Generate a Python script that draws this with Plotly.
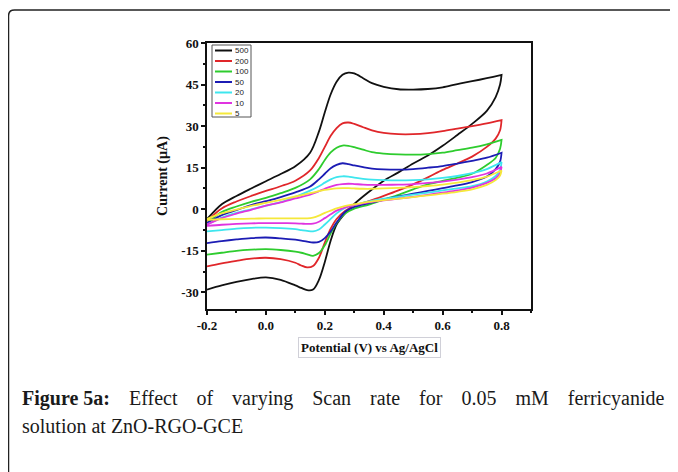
import plotly.graph_objects as go


# ==========================================================
# Data
# ==========================================================

scan_rates = ["500", "200", "100", "50", "20", "10", "5"]

line_colors = ["#111111", "#e0262a", "#2ecc2e", "#1c1cb4",
               "#3ee6ee", "#e034e0", "#f5e83a"]

# forward (anodic) sweep, -0.2 V -> 0.8 V
potential_fwd = [-0.2, -0.15, -0.1, -0.05, 0.0, 0.05, 0.1, 0.15, 0.18, 0.2,
                 0.22, 0.24, 0.26, 0.28, 0.3, 0.33, 0.36, 0.4, 0.45, 0.5,
                 0.55, 0.6, 0.65, 0.7, 0.75, 0.8]

# reverse (cathodic) sweep, 0.8 V -> -0.2 V
potential_rev = [0.8, 0.795, 0.78, 0.75, 0.7, 0.65, 0.6, 0.55, 0.5, 0.45, 0.4,
                 0.35, 0.3, 0.27, 0.24, 0.22, 0.2, 0.18, 0.16, 0.14, 0.12,
                 0.1, 0.05, 0.0, -0.05, -0.1, -0.15, -0.2]

current_500_fwd = [-3.6, 1.8, 4.8, 7.5, 10.1, 12.7, 15.5, 20.4, 28.0, 35.0,
                   41.5, 46.0, 48.5, 49.3, 49.0, 47.3, 45.5, 44.2, 43.3, 43.2,
                   43.4, 44.0, 45.2, 46.2, 47.3, 48.5]
current_500_rev = [48.5, 45.0, 40.5, 35.5, 30.8, 26.8, 22.9, 19.4, 16.5, 13.3, 10.3,
                   6.3, 1.9, -1.3, -5.5, -11.3, -19.0, -25.5, -29.0, -29.2, -28.4,
                   -27.5, -25.5, -24.6, -25.2, -26.2, -27.5, -29.0]

current_200_fwd = [-4.2, 0.3, 2.8, 4.8, 6.6, 8.3, 10.3, 14.0, 18.5, 22.5,
                   26.5, 29.3, 31.0, 31.3, 30.8, 29.6, 28.5, 27.6, 27.1, 27.1,
                   27.5, 28.2, 29.1, 30.0, 31.0, 32.2]
current_200_rev = [32.2, 28.5, 25.5, 22.5, 19.0, 16.5, 14.2, 11.5, 9.0, 6.8, 4.8,
                   2.9, 1.2, -0.5, -3.5, -7.0, -12.0, -17.5, -20.5, -21.0, -20.3,
                   -19.3, -18.0, -17.5, -17.8, -18.6, -19.5, -20.6]

current_100_fwd = [-5.0, -1.0, 1.0, 2.7, 4.1, 5.8, 7.7, 10.8, 14.5, 17.8,
                   20.5, 22.2, 23.0, 22.9, 22.4, 21.5, 20.6, 20.1, 19.8, 19.7,
                   19.9, 20.4, 21.3, 22.2, 23.4, 25.0]
current_100_rev = [25.0, 21.8, 18.5, 16.0, 12.8, 11.4, 10.2, 9.0, 7.2, 5.2, 3.5,
                   1.7, 0.2, -1.5, -5.0, -8.7, -13.0, -15.8, -16.8, -16.3, -15.7,
                   -15.3, -14.7, -14.4, -14.6, -15.0, -15.7, -16.4]

current_50_fwd = [-5.0, -2.1, -0.3, 1.5, 2.9, 4.4, 6.1, 8.2, 10.8, 12.8,
                  14.8, 16.0, 16.6, 16.3, 15.8, 15.2, 14.7, 14.4, 14.3, 14.5,
                  15.0, 15.6, 16.5, 17.5, 18.6, 20.4]
current_50_rev = [20.4, 17.2, 14.5, 11.8, 9.8, 8.6, 7.6, 6.6, 5.6, 4.6, 3.5,
                  2.2, 0.8, -0.8, -4.8, -8.0, -10.4, -11.8, -12.0, -11.7, -11.3,
                  -11.0, -10.5, -10.2, -10.4, -10.9, -11.5, -12.2]

current_20_fwd = [-5.5, -3.0, -1.3, 0.0, 1.3, 2.6, 4.5, 6.7, 8.3, 9.6,
                  10.8, 11.6, 11.9, 11.8, 11.4, 11.0, 10.7, 10.5, 10.4, 10.5,
                  10.8, 11.3, 12.0, 13.0, 14.5, 17.0]
current_20_rev = [17.0, 14.2, 12.0, 10.0, 8.3, 7.5, 6.8, 6.0, 5.3, 4.5, 3.8,
                  2.8, 1.5, 0.6, -1.5, -3.5, -5.5, -7.3, -8.0, -7.8, -7.5,
                  -7.2, -6.8, -6.6, -6.7, -7.0, -7.5, -8.0]

current_10_fwd = [-5.5, -3.2, -1.6, -0.2, 1.3, 2.5, 3.9, 5.3, 6.5, 7.4,
                  8.2, 8.8, 9.1, 9.2, 9.1, 8.9, 8.8, 8.8, 8.9, 9.1,
                  9.5, 10.0, 10.7, 11.6, 12.9, 15.3]
current_10_rev = [15.3, 13.0, 11.2, 9.5, 7.8, 6.8, 6.0, 5.2, 4.5, 3.8, 3.2,
                  2.5, 1.5, 0.7, -0.5, -1.8, -3.2, -4.5, -5.2, -5.3, -5.2,
                  -5.1, -5.0, -5.0, -5.1, -5.3, -5.6, -6.0]

current_5_fwd = [-3.5, -1.5, -0.1, 1.2, 2.3, 3.4, 4.6, 5.8, 6.5, 7.0,
                 7.3, 7.5, 7.6, 7.6, 7.5, 7.4, 7.4, 7.5, 7.7, 8.0,
                 8.4, 8.9, 9.6, 10.5, 11.8, 14.0]
current_5_rev = [14.0, 12.2, 10.5, 8.8, 7.2, 6.3, 5.6, 5.0, 4.4, 3.8, 3.3,
                 2.7, 1.8, 1.2, 0.3, -0.5, -1.3, -2.3, -3.0, -3.3, -3.3,
                 -3.3, -3.3, -3.3, -3.4, -3.5, -3.6, -3.8]

currents_fwd = [current_500_fwd, current_200_fwd, current_100_fwd, current_50_fwd,
                current_20_fwd, current_10_fwd, current_5_fwd]
currents_rev = [current_500_rev, current_200_rev, current_100_rev, current_50_rev,
                current_20_rev, current_10_rev, current_5_rev]

x_ticks = [-0.2, 0.0, 0.2, 0.4, 0.6, 0.8]
x_ticklabels = ["-0.2", "0.0", "0.2", "0.4", "0.6", "0.8"]
y_ticks = [-30, -15, 0, 15, 30, 45, 60]
y_ticklabels = ["-30", "-15", "0", "15", "30", "45", "60"]


# ==========================================================
# Layout helpers (screen pixel -> paper)
# the page body has an 8px margin, so the figure is drawn 8px smaller
# ==========================================================

OFF = 8
W, H = 678 - OFF, 472 - OFF
PL, PR, PT, PB = 207 - OFF, 531 - OFF, 43 - OFF, 309 - OFF


def px_x(px):
    return (px - OFF - PL) / (PR - PL)


def px_y(py):
    return (PB - (py - OFF)) / (PB - PT)


# ==========================================================
# Figure
# ==========================================================

fig = go.Figure()

for rate, color, fwd, rev in zip(scan_rates, line_colors, currents_fwd, currents_rev):
    fig.add_trace(
        go.Scatter(
            x=potential_fwd + potential_rev,
            y=fwd + rev,
            mode="lines",
            name=rate,
            line=dict(color=color, width=1.8, shape="spline", smoothing=0.9),
            showlegend=False
        )
    )

tick_font = dict(family="Liberation Serif", size=13, color="#111111", weight="bold")

fig.update_xaxes(
    range=[-0.2, 0.9],
    tickvals=x_ticks,
    ticktext=x_ticklabels,
    ticks="outside",
    ticklen=4,
    tickwidth=1.5,
    tickcolor="#111111",
    minor=dict(ticks="outside", dtick=0.1, tick0=-0.2, ticklen=2, tickwidth=1.5, tickcolor="#111111"),
    showline=True,
    linecolor="#111111",
    linewidth=1.5,
    mirror=True,
    showgrid=False,
    zeroline=False,
    tickfont=tick_font
)

fig.update_yaxes(
    range=[-36, 60],
    tickvals=y_ticks,
    ticktext=y_ticklabels,
    ticks="outside",
    ticklen=4,
    tickwidth=1.5,
    tickcolor="#111111",
    minor=dict(ticks="outside", dtick=7.5, tick0=0, ticklen=2, tickwidth=1.5, tickcolor="#111111"),
    showline=True,
    linecolor="#111111",
    linewidth=1.5,
    mirror=True,
    showgrid=False,
    zeroline=False,
    tickfont=tick_font,
    title=dict(
        text="<b>Current (µA)</b>",
        font=dict(family="Liberation Serif", size=14, color="#111111"),
        standoff=10
    )
)

annotations = []
shapes = []

# x axis title in a light box
annotations.append(dict(
    x=0.5, y=px_y(347), xref="paper", yref="paper",
    text="<b>Potential (V) vs Ag/AgCl</b>",
    showarrow=False,
    font=dict(family="Liberation Serif", size=13, color="#111111"),
    bordercolor="#d0d0d8", borderwidth=1, borderpad=2,
    xanchor="center", yanchor="middle"
))

# legend box drawn by hand (plotly's own legend rows are too tall)
shapes.append(dict(
    type="rect", xref="paper", yref="paper",
    x0=px_x(212), x1=px_x(251), y0=px_y(117), y1=px_y(45),
    line=dict(color="#555555", width=1), fillcolor="white", layer="above"
))
for i, (rate, color) in enumerate(zip(scan_rates, line_colors)):
    yc = 50.5 + i * 10.5
    shapes.append(dict(
        type="line", xref="paper", yref="paper",
        x0=px_x(215), x1=px_x(232), y0=px_y(yc), y1=px_y(yc),
        line=dict(color=color, width=2), layer="above"
    ))
    annotations.append(dict(
        x=px_x(233), y=px_y(yc), xref="paper", yref="paper",
        text=rate, showarrow=False,
        font=dict(family="Liberation Sans", size=8, color="#222222"),
        xanchor="left", yanchor="middle"
    ))

# outer rounded frame (top and left edges visible)
fx, fy, r = px_x(8.5), px_y(10), 6
shapes.append(dict(
    type="path", xref="paper", yref="paper",
    path=(f"M {fx},{px_y(480)} L {fx},{px_y(10 + r)} "
          f"Q {fx},{fy} {px_x(8.5 + r)},{fy} L {px_x(672)},{fy}"),
    line=dict(color="#222222", width=1.5)
))

# caption (first line justified with widened word gaps)
gap = "   \u2009"
line1 = gap.join(["<b>Figure 5a:</b>", "Effect", "of", "varying", "Scan", "rate",
                  "for", "0.05", "mM", "ferricyanide"])
annotations.append(dict(
    x=px_x(20), y=px_y(398), xref="paper", yref="paper",
    text=line1, showarrow=False,
    font=dict(family="Liberation Serif", size=20, color="#1a1a1a"),
    xanchor="left", yanchor="middle"
))
annotations.append(dict(
    x=px_x(20), y=px_y(426), xref="paper", yref="paper",
    text="solution at ZnO-RGO-GCE", showarrow=False,
    font=dict(family="Liberation Serif", size=20, color="#1a1a1a"),
    xanchor="left", yanchor="middle"
))

fig.update_layout(
    width=W,
    height=H,
    margin=dict(l=PL, r=W - PR, t=PT, b=H - PB),
    paper_bgcolor="white",
    plot_bgcolor="white",
    showlegend=False,
    annotations=annotations,
    shapes=shapes
)

fig.write_html("out.html")
